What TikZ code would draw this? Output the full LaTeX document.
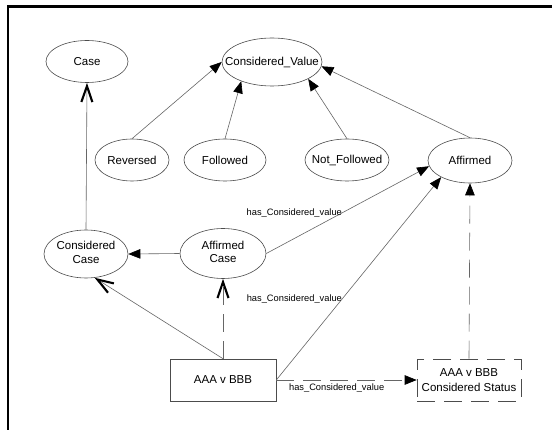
\documentclass[tikz,border=0pt]{standalone}
\usepackage{fontspec}
\setmainfont{Liberation Sans}
\usetikzlibrary{shapes.geometric,arrows.meta}
\begin{document}
\begin{tikzpicture}[x=1pt,y=-1pt,
  ell/.style={ellipse,draw=black!70,line width=0.6pt,inner sep=0pt,font=\fontsize{11.5}{13.5}\selectfont},
  box/.style={rectangle,draw=black!70,line width=0.6pt,inner sep=0pt,align=center,font=\fontsize{11.5}{14.5}\selectfont},
  edge/.style={draw=black!60,line width=0.6pt},
  dashedge/.style={edge,dash pattern=on 18pt off 9pt},
  tri/.style={-{Triangle[length=12pt,width=9.5pt,color=black]}},
  vee/.style={-{Straight Barb[length=16pt,width=11pt,line width=2.1pt,color=black]}},
  lab/.style={font=\fontsize{9.3}{11}\selectfont,inner sep=1pt}
]
\useasboundingbox (0,0) rectangle (552,430);
\fill[white] (0,0) rectangle (552,430);
\draw[line width=2.5pt] (552,6.5) -- (7.8,6.5) -- (7.8,430);

\node[ell,minimum width=82pt,minimum height=42pt] (case) at (87,61.5) {Case};
\node[ell,minimum width=100pt,minimum height=48pt] (cv) at (272,62) {\makebox[0pt]{Considered\_Value}};
\node[ell,minimum width=74pt,minimum height=42pt] (rev) at (132,160) {Reversed};
\node[ell,minimum width=82pt,minimum height=42pt] (fol) at (225,160) {Followed};
\node[ell,minimum width=84pt,minimum height=42pt] (nf) at (347,160) {\makebox[0pt]{Not\_Followed}};
\node[ell,minimum width=84pt,minimum height=45pt] (aff) at (470,160.5) {Affirmed};
\node[ell,minimum width=84pt,minimum height=48pt] (cc) at (86,254) {\makebox[0pt]{\begin{tabular}{@{}c@{}}Considered\\Case\end{tabular}}};
\node[ell,minimum width=86pt,minimum height=50pt] (ac) at (223,253.5) {\makebox[0pt]{\begin{tabular}{@{}c@{}}Affirmed\\Case\end{tabular}}};
\node[box,minimum width=106pt,minimum height=42pt] (aaa) at (223,380) {AAA v BBB};
\node[box,dash pattern=on 18pt off 9pt,minimum width=104pt,minimum height=42pt] (st) at (469,380) {AAA v BBB\\Considered Status};

\draw[edge,vee] (cc.north) -- (case.south);
\draw[edge,tri] (rev.north) -- (cv.west);
\draw[edge,tri] (fol.north) -- (cv.212);
\draw[edge,tri] (nf.north) -- (cv.335);
\draw[edge,tri] (aff.north) -- (cv.355);
\draw[edge,tri] (ac.west) -- (cc.east);
\draw[edge,tri] (ac.east) -- node[lab,pos=0.46,anchor=east,xshift=2pt]{has\_Considered\_value} (aff.188);
\draw[edge,tri] (aaa.east) -- node[lab,pos=0.4,anchor=east,xshift=1pt]{has\_Considered\_value} (aff.210);
\draw[dashedge,tri] (aaa.east) -- node[lab,pos=0.43,anchor=north,yshift=-2pt]{has\_Considered\_value} (st.west);
\draw[dashedge,tri] (st.north) -- (aff.south);
\draw[edge,vee] (aaa.north) -- (cc.290);
\draw[dashedge,vee] (aaa.north) -- (ac.south);
\end{tikzpicture}
\end{document}
